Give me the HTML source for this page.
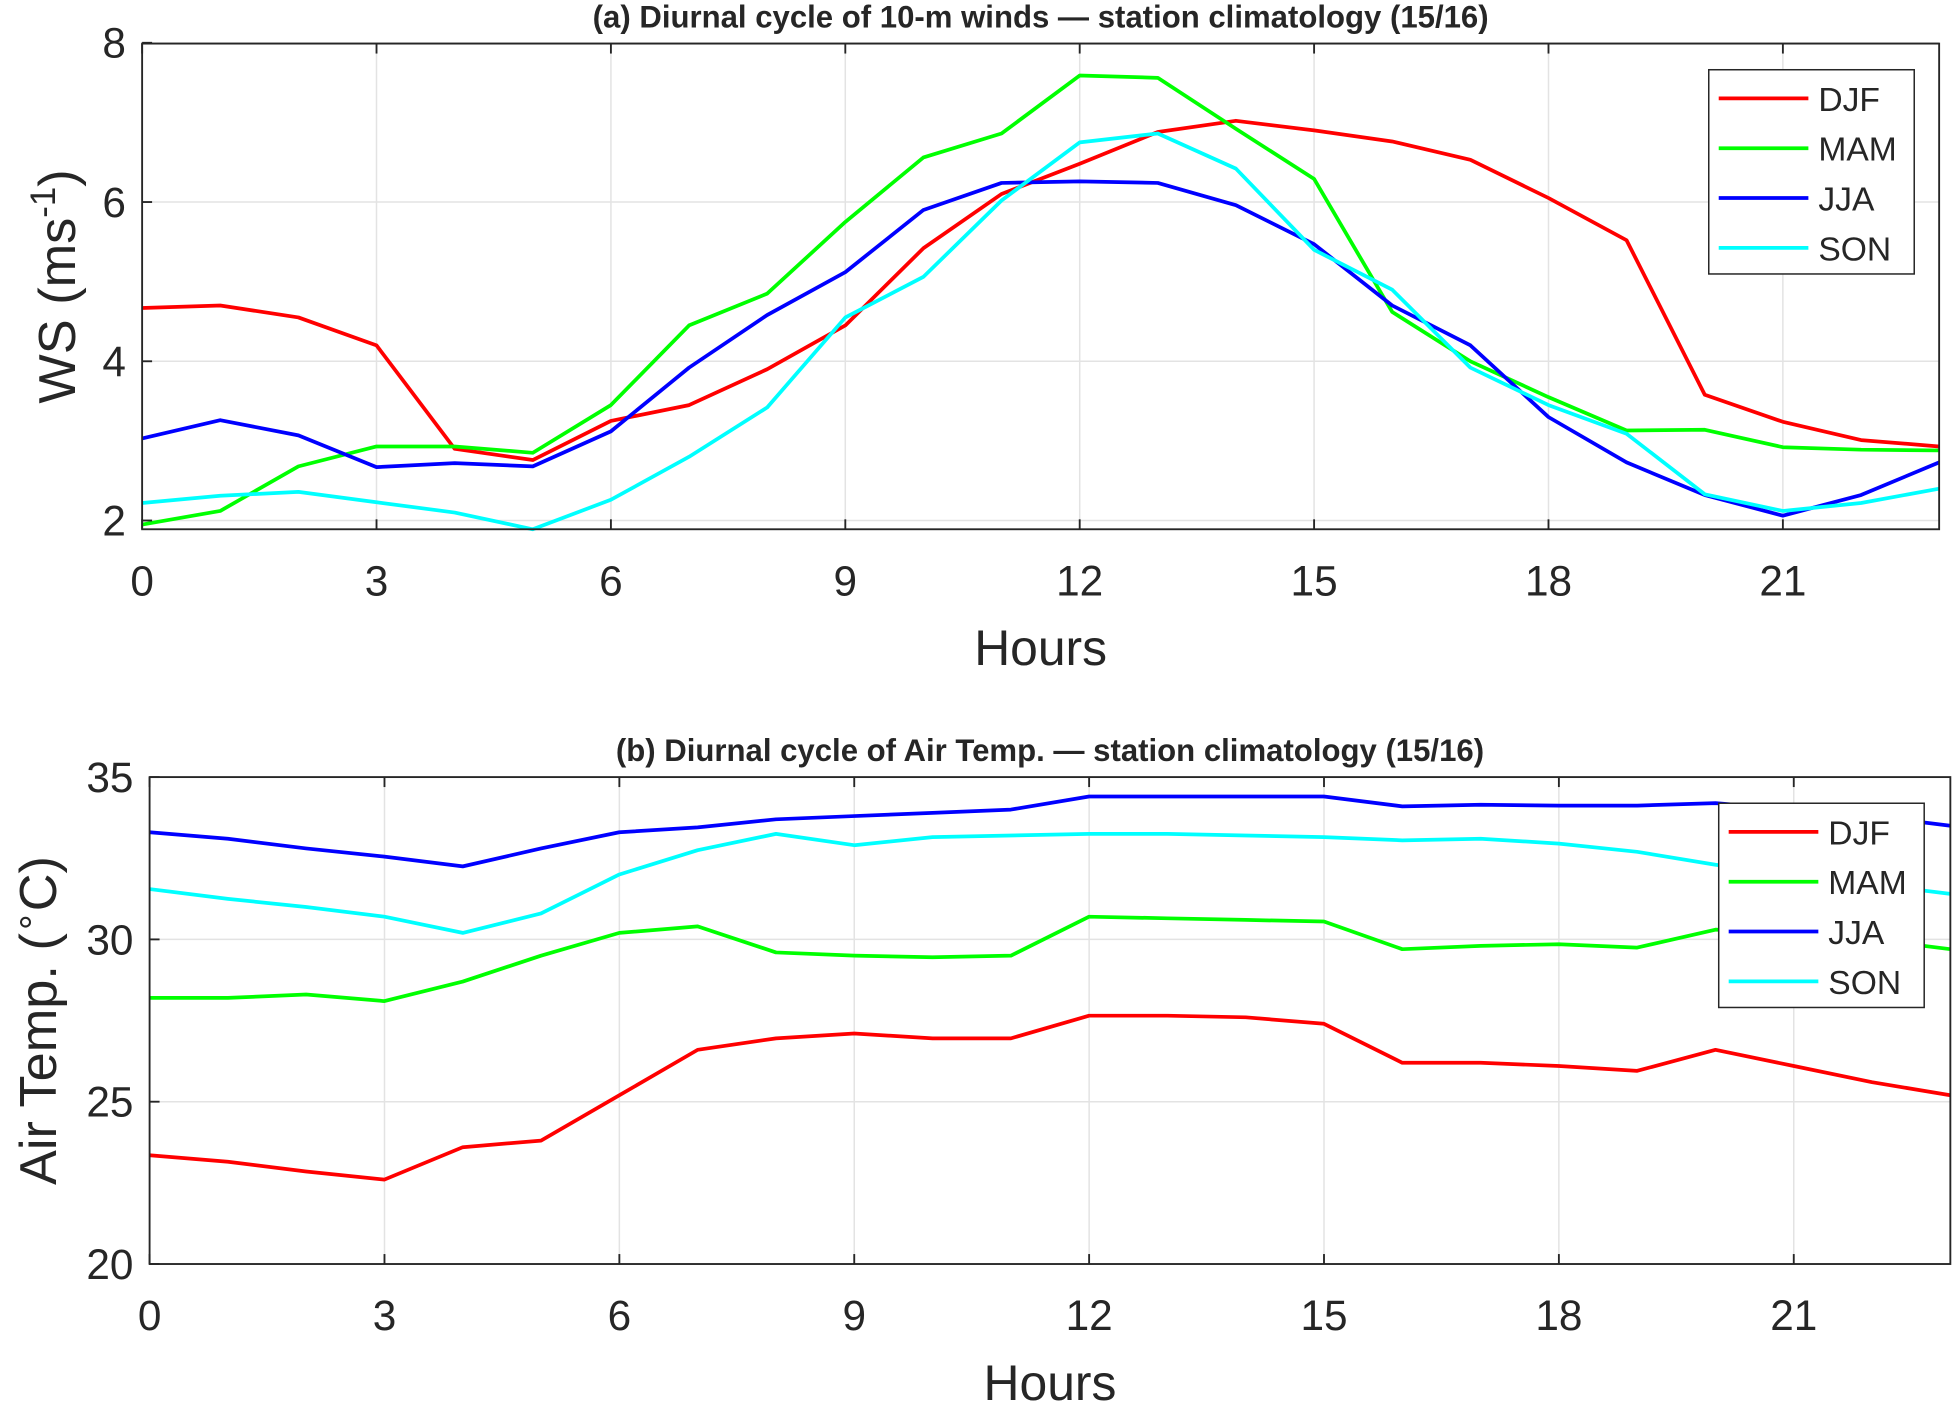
<!DOCTYPE html>
<html><head><meta charset="utf-8"><style>
html,body{margin:0;padding:0;background:#fff}
svg{display:block}
text{font-family:"Liberation Sans",Arial,sans-serif;fill:#262626}
</style></head><body>
<svg id="chart" width="1953" height="1401" viewBox="0 0 1568 1125" xmlns="http://www.w3.org/2000/svg"></svg>
<script>
const hours = [0,1,2,3,4,5,6,7,8,9,10,11,12,13,14,15,16,17,18,19,20,21,22,23];
const xTicks = [0,3,6,9,12,15,18,21];
const seasons = ["DJF","MAM","JJA","SON"];
const colors = ["#ff0000","#00ff00","#0000ff","#00ffff"];
const wsDJF = [4.67,4.70,4.55,4.20,2.90,2.76,3.25,3.45,3.90,4.45,5.42,6.10,6.48,6.88,7.02,6.90,6.76,6.53,6.05,5.52,3.58,3.24,3.01,2.93];
const wsMAM = [1.95,2.12,2.68,2.93,2.93,2.85,3.45,4.45,4.85,5.75,6.56,6.86,7.59,7.56,6.92,6.29,4.62,4.00,3.55,3.13,3.14,2.92,2.89,2.88];
const wsJJA = [3.03,3.26,3.07,2.67,2.72,2.68,3.12,3.92,4.58,5.12,5.90,6.24,6.26,6.24,5.96,5.47,4.70,4.20,3.30,2.73,2.32,2.06,2.32,2.73];
const wsSON = [2.22,2.31,2.36,2.23,2.10,1.89,2.26,2.80,3.42,4.55,5.06,6.02,6.75,6.86,6.42,5.40,4.90,3.92,3.45,3.09,2.33,2.12,2.22,2.40];
const wsTicks = [2,4,6,8];
const tDJF = [23.35,23.15,22.85,22.6,23.6,23.8,25.2,26.6,26.95,27.1,26.95,26.95,27.65,27.65,27.6,27.4,26.2,26.2,26.1,25.95,26.6,26.1,25.6,25.2];
const tMAM = [28.2,28.2,28.3,28.1,28.7,29.5,30.2,30.4,29.6,29.5,29.45,29.5,30.7,30.65,30.6,30.55,29.7,29.8,29.85,29.75,30.3,30.2,30.0,29.7];
const tJJA = [33.3,33.1,32.8,32.55,32.25,32.8,33.3,33.45,33.7,33.8,33.9,34.0,34.4,34.4,34.4,34.4,34.1,34.15,34.12,34.12,34.2,34.0,33.8,33.5];
const tSON = [31.55,31.25,31.0,30.7,30.2,30.8,32.0,32.75,33.25,32.9,33.15,33.2,33.25,33.25,33.2,33.15,33.05,33.1,32.95,32.7,32.3,32.0,31.7,31.4];
const tTicks = [20,25,30,35];

const NS="http://www.w3.org/2000/svg";
const svg=document.getElementById('chart');
function mk(tag,attrs,parent){const e=document.createElementNS(NS,tag);for(const k in attrs)e.setAttribute(k,attrs[k]);(parent||svg).appendChild(e);return e;}

function panel(cfg){
  const g=mk('g',{});
  
  
  const L=cfg.left,R=cfg.right,T=cfg.top,B=cfg.bottom;
  const sx=v=>L+(v-0)/(23-0)*(R-L);
  const sy=v=>B-(v-cfg.ymin)/(cfg.ymax-cfg.ymin)*(B-T);
  xTicks.forEach(t=>{
    const l=mk('line',{x1:sx(t),x2:sx(t),y1:T,y2:B,stroke:'#e3e3e3','stroke-width':1.2},g);
    
    
  });
  cfg.yticks.forEach(t=>{
    const l=mk('line',{x1:L,x2:R,y1:sy(t),y2:sy(t),stroke:'#e3e3e3','stroke-width':1.2},g);
    
    
  });
  cfg.series.forEach((s,i)=>{
    const pts=hours.map((h,j)=>sx(h).toFixed(1)+','+sy(s[j]).toFixed(1)).join(' ');
    const p=mk('polyline',{points:pts,fill:'none',stroke:colors[i],'stroke-width':3,'stroke-linejoin':'round'},g);
    
    
  });
  const box=mk('rect',{x:L,y:T,width:R-L,height:B-T,fill:'none',stroke:'#262626','stroke-width':1.5},g);
  
  
  xTicks.forEach(t=>{
    mk('line',{x1:sx(t),x2:sx(t),y1:B,y2:B-8,stroke:'#262626','stroke-width':1.5},g);
    mk('line',{x1:sx(t),x2:sx(t),y1:T,y2:T+8,stroke:'#262626','stroke-width':1.5},g);
    const tx=mk('text',{x:sx(t),y:B+53,'text-anchor':'middle','font-size':34},g);
    tx.textContent=t;
    
    
  });
  cfg.yticks.forEach(t=>{
    mk('line',{x1:L,x2:L+8,y1:sy(t),y2:sy(t),stroke:'#262626','stroke-width':1.5},g);
    const ty=mk('text',{x:L-13,y:sy(t)+12,'text-anchor':'end','font-size':34},g);
    ty.textContent=t;
    
    
  });
  const xl=mk('text',{x:(L+R)/2,y:B+109,'text-anchor':'middle','font-size':40},g);
  xl.textContent='Hours';
  
  
  const ti=mk('text',{x:(L+R)/2,y:T-13,'text-anchor':'middle','font-size':25,'font-weight':'bold'},g);
  ti.textContent=cfg.title;
  
  
  const yl=mk('text',{x:0,y:0,'text-anchor':'middle','font-size':42,transform:`translate(${cfg.ylx},${(T+B)/2}) rotate(-90)`},g);
  yl.innerHTML=cfg.ylabel;
  
  
  const lg=mk('g',{},g);
  
  
  mk('rect',{x:cfg.lx,y:cfg.ly,width:165,height:164,fill:'#fff',stroke:'#262626','stroke-width':1.2},lg);
  seasons.forEach((s,i)=>{
    const y=cfg.ly+23+i*40;
    const e=mk('g',{},lg);
    
    
    mk('line',{x1:cfg.lx+8,x2:cfg.lx+80,y1:y,y2:y,stroke:colors[i],'stroke-width':3},e);
    const t=mk('text',{x:cfg.lx+88,y:y+10,'font-size':27},e);
    t.textContent=s;
  });
}
panel({name:'wind-speed-panel',left:114,right:1557,top:35,bottom:425,ymin:1.89,ymax:7.99,yticks:wsTicks,
  series:[wsDJF,wsMAM,wsJJA,wsSON],title:'(a) Diurnal cycle of 10-m winds \u2014 station climatology (15/16)',
  ylabel:'WS (ms<tspan dy="-16" font-size="28">-1</tspan><tspan dy="16">)</tspan>',ylx:60,lx:1372,ly:56});
panel({name:'air-temperature-panel',left:120,right:1566,top:624,bottom:1015,ymin:20,ymax:35,yticks:tTicks,
  series:[tDJF,tMAM,tJJA,tSON],title:'(b) Diurnal cycle of Air Temp. \u2014 station climatology (15/16)',
  ylabel:'Air Temp. (<tspan dy="-16" font-size="28">\u2218</tspan><tspan dy="16">C)</tspan>',ylx:45,lx:1380,ly:645});
</script>
</body></html>
